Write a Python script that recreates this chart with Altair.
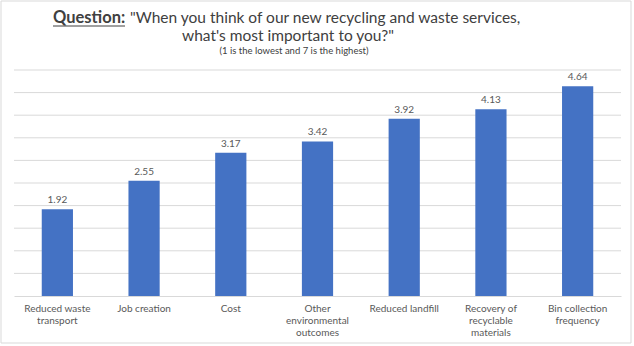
import altair as alt
import pandas as pd

categories = [
    "Reduced waste|transport",
    "Job creation",
    "Cost",
    "Other|environmental|outcomes",
    "Reduced landfill",
    "Recovery of|recyclable|materials",
    "Bin collection|frequency",
]
values = [1.92, 2.55, 3.17, 3.42, 3.92, 4.13, 4.64]
value_labels = ["1.92", "2.55", "3.17", "3.42", "3.92", "4.13", "4.64"]
grid_values = [0.5, 1.0, 1.5, 2.0, 2.5, 3.0, 3.5, 4.0, 4.5, 5.0]

title_bold = "Question:"
title_rest = "\"When you think of our new recycling and waste services,"
title_line2 = "what's most important to you?\""
subtitle = "(1 is the lowest and 7 is the highest)"

df = pd.DataFrame({"cat": categories, "val": values, "lab": value_labels})
grid_df = pd.DataFrame({"g": grid_values})

FONT = "Lato"
TXT = "#595959"
TITLE = "#404040"

yscale = alt.Scale(domain=[0, 5], nice=False)

x_enc = alt.X(
    "cat:N",
    sort=categories,
    scale=alt.Scale(paddingInner=0.64, paddingOuter=0.32),
    axis=alt.Axis(
        title=None,
        labelAngle=0,
        labelExpr="split(datum.label, '|')",
        labelFont=FONT,
        labelFontSize=10,
        labelColor=TXT,
        labelPadding=7,
        labelLineHeight=12,
        labelBaseline="top",
        ticks=False,
        domainColor="#d9d9d9",
        domainWidth=1,
        labelLimit=120,
        grid=False,
    ),
)
y_enc = alt.Y("val:Q", scale=yscale, axis=None)

grid = alt.Chart(grid_df).mark_rule(color="#d9d9d9", strokeWidth=1).encode(
    y=alt.Y("g:Q", scale=yscale, axis=None)
)

base = alt.Chart(df)
bars = base.mark_bar(color="#4472C4").encode(x=x_enc, y=y_enc)
texts = base.mark_text(
    font=FONT, fontSize=10, color=TXT, baseline="alphabetic", dy=-6
).encode(x=alt.X("cat:N", sort=categories), y=alt.Y("val:Q", scale=yscale, axis=None), text="lab:N")

one = pd.DataFrame({"a": [0]})
border = alt.Chart(one).mark_rect(fill=None, stroke="#d9d9d9", strokeWidth=1).encode(
    x=alt.value(-13), x2=alt.value(617), y=alt.value(-69), y2=alt.value(273)
)
t_bold = alt.Chart(one).mark_text(
    text=title_bold, font=FONT, fontSize=16.5, fontWeight="bold", color=TITLE,
    align="left", baseline="alphabetic"
).encode(x=alt.value(39), y=alt.value(-47))
t_under = alt.Chart(one).mark_rule(color=TITLE, strokeWidth=1).encode(
    x=alt.value(39), x2=alt.value(111), y=alt.value(-44)
)
t_rest = alt.Chart(one).mark_text(
    text=title_rest, font=FONT, fontSize=15.5, color=TITLE,
    align="left", baseline="alphabetic"
).encode(x=alt.value(116), y=alt.value(-47))
t_line2 = alt.Chart(one).mark_text(
    text=title_line2, font=FONT, fontSize=15.5, color=TITLE,
    align="center", baseline="alphabetic"
).encode(x=alt.value(274), y=alt.value(-29))
t_sub = alt.Chart(one).mark_text(
    text=subtitle, font=FONT, fontSize=9.5, color=TITLE,
    align="center", baseline="alphabetic"
).encode(x=alt.value(280), y=alt.value(-16))

chart = alt.layer(grid, bars, texts, border, t_bold, t_under, t_rest, t_line2, t_sub).properties(
    width=607,
    height=226,
    autosize=alt.AutoSizeParams(type="none"),
    padding={"left": 14, "top": 70, "right": 13, "bottom": 50},
    background="white",
).configure_view(stroke=None)

chart.save("out.html", embed_options={"renderer": "svg", "actions": False})
